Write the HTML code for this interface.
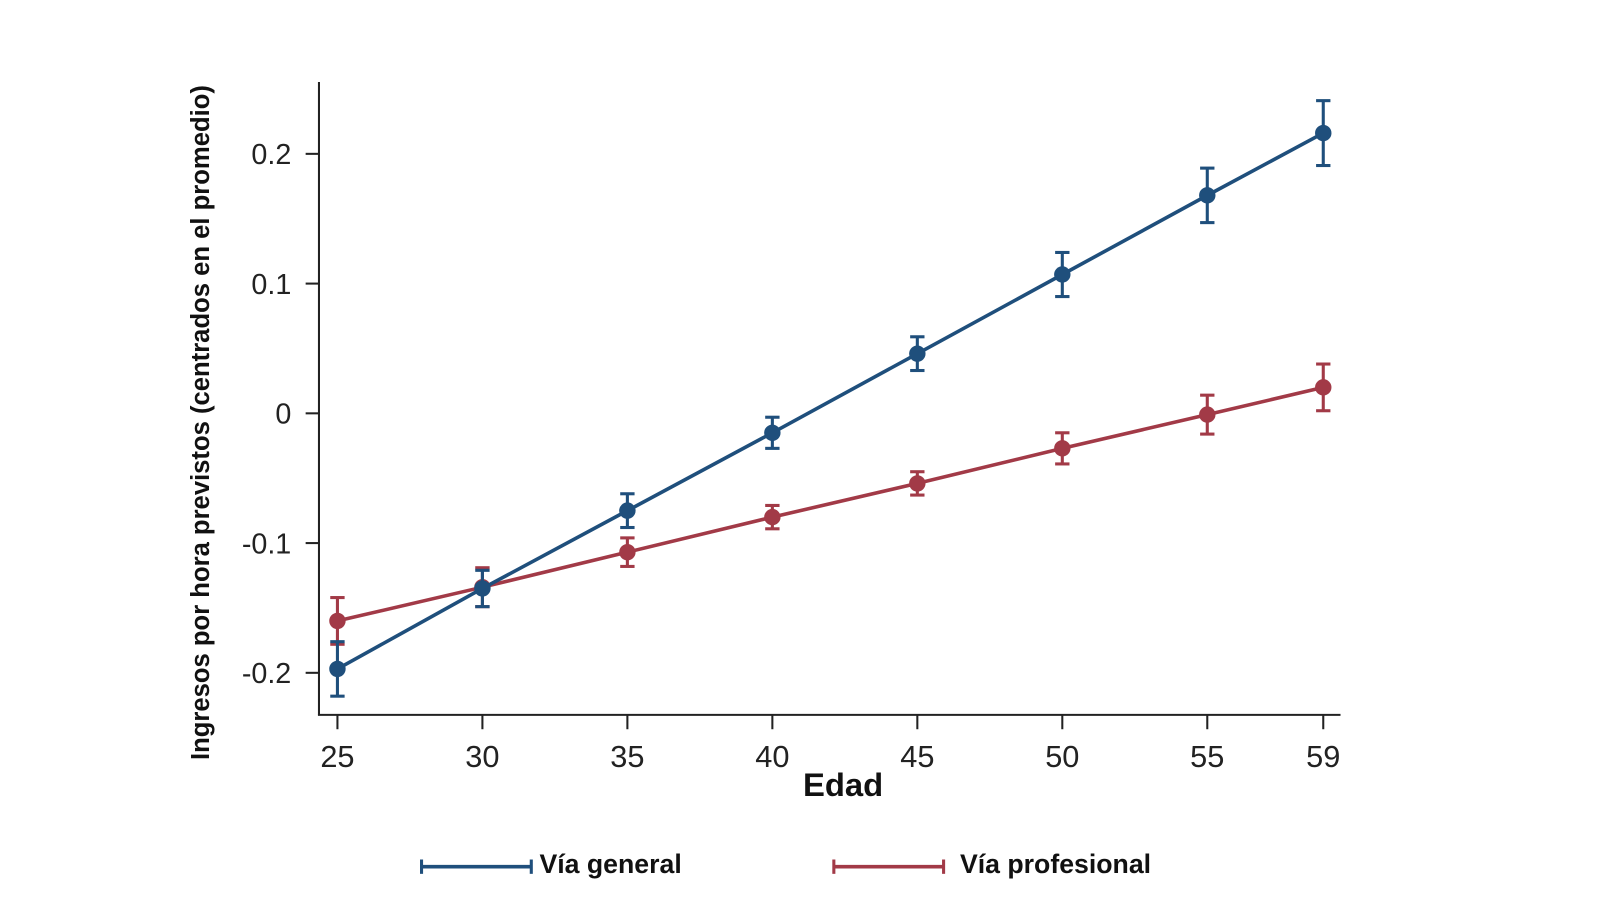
<!DOCTYPE html>
<html><head><meta charset="utf-8"><style>
body{margin:0;background:#fff;}
svg{display:block;font-family:"Liberation Sans",sans-serif;}
</style></head><body>
<svg id="chart" width="1600" height="900">
<g transform="scale(1.02564)">
<g id="axes"></g><g id="series"></g>
<text x="822" y="776" font-size="32" font-weight="bold" text-anchor="middle" fill="#111">Edad</text>
<text transform="translate(204,412) rotate(-90)" font-size="25" font-weight="bold" text-anchor="middle" fill="#111">Ingresos por hora previstos (centrados en el promedio)</text>
<g>
<g>
<line x1="410" y1="845" x2="519" y2="845" stroke="#1f4f7c" stroke-width="3.5"/>
<line x1="411" y1="838" x2="411" y2="852" stroke="#1f4f7c" stroke-width="3"/>
<line x1="518" y1="838" x2="518" y2="852" stroke="#1f4f7c" stroke-width="3"/>
<text x="526" y="851" font-size="26" font-weight="bold" fill="#111">Vía general</text></g>
<g>
<line x1="812" y1="845" x2="921" y2="845" stroke="#a23a47" stroke-width="3.5"/>
<line x1="813" y1="838" x2="813" y2="852" stroke="#a23a47" stroke-width="3"/>
<line x1="920" y1="838" x2="920" y2="852" stroke="#a23a47" stroke-width="3"/>
<text x="936" y="851" font-size="26" font-weight="bold" fill="#111">Vía profesional</text></g>
</g>
</g>
</svg>
<script>
const ages=[25,30,35,40,45,50,55,59];
const general=[-0.197,-0.135,-0.075,-0.015,0.046,0.107,0.168,0.216];
const generalErr=[0.021,0.014,0.013,0.012,0.013,0.017,0.021,0.025];
const profesional=[-0.160,-0.134,-0.107,-0.080,-0.054,-0.027,-0.001,0.020];
const profesionalErr=[0.018,0.015,0.011,0.009,0.009,0.012,0.015,0.018];
const yTicks=[-0.2,-0.1,0,0.1,0.2];
const yTickLabels=["-0.2","-0.1","0","0.1","0.2"];
const NS="http://www.w3.org/2000/svg";
function x(a){return 329+(a-25)*28.27;}
function y(v){return 403-v*1265;}
function mk(tag,attrs,parent){const e=document.createElementNS(NS,tag);for(const k in attrs)e.setAttribute(k,attrs[k]);parent.appendChild(e);return e;}
const axes=document.getElementById('axes');
let l=mk('line',{x1:311,y1:80,x2:311,y2:697,stroke:'#222','stroke-width':2},axes);


l=mk('line',{x1:310,y1:697,x2:1307,y2:697,stroke:'#222','stroke-width':2},axes);


yTicks.forEach((t,i)=>{
  mk('line',{x1:298,y1:y(t),x2:311,y2:y(t),stroke:'#222','stroke-width':2},axes);
  const tx=mk('text',{x:284,y:y(t)+10,'font-size':28,'text-anchor':'end',fill:'#222'},axes);
  tx.textContent=yTickLabels[i];
  
  
});
ages.forEach(a=>{
  mk('line',{x1:x(a),y1:697,x2:x(a),y2:711,stroke:'#222','stroke-width':2},axes);
  const tx=mk('text',{x:x(a),y:748,'font-size':30,'text-anchor':'middle',fill:'#222'},axes);
  tx.textContent=a;
  
  
});
const ser=document.getElementById('series');
function draw(vals,errs,color,name){
  const g=mk('g',{},ser);
  
  
  const p=mk('polyline',{points:ages.map((a,i)=>x(a)+','+y(vals[i])).join(' '),fill:'none',stroke:color,'stroke-width':3.5},g);
  
  
  ages.forEach((a,i)=>{
    const cx=x(a),t=y(vals[i]+errs[i]),b=y(vals[i]-errs[i]);
    mk('line',{x1:cx,y1:t,x2:cx,y2:b,stroke:color,'stroke-width':3},g);
    mk('line',{x1:cx-7,y1:t,x2:cx+7,y2:t,stroke:color,'stroke-width':3},g);
    mk('line',{x1:cx-7,y1:b,x2:cx+7,y2:b,stroke:color,'stroke-width':3},g);
    const c=mk('circle',{cx:cx,cy:y(vals[i]),r:8,fill:color},g);
    
    
  });
}
draw(profesional,profesionalErr,'#a23a47','series-profesional');
draw(general,generalErr,'#1f4f7c','series-general');
</script>
</body></html>
